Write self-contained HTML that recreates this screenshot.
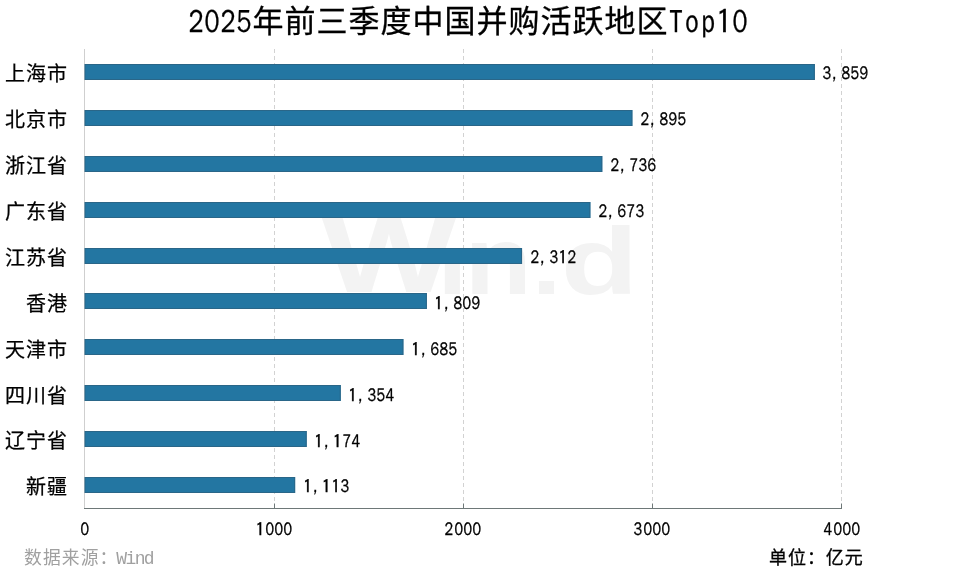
<!DOCTYPE html>
<html><head><meta charset="utf-8"><style>
html,body{margin:0;padding:0;background:#fff;}
body{width:960px;height:569px;position:relative;overflow:hidden;font-family:"Liberation Sans","Noto Sans CJK SC",sans-serif;color:#000;}
.a{position:absolute;white-space:nowrap;will-change:transform;}
i{font-style:normal;display:inline-flex;justify-content:center;font-family:"WenQuanYi Zen Hei","Liberation Sans",sans-serif;transform:scaleX(0.78);line-height:10px;}
svg{position:absolute;left:0;top:0;}
.lb{font-size:20px;line-height:30px;letter-spacing:1px;-webkit-text-stroke:0.25px #000;}
</style></head><body>
<svg width="960" height="569" viewBox="0 0 960 569"><defs><clipPath id="ci"><rect x="0" y="248" width="960" height="100"/></clipPath></defs><g fill="#f3f3f3" font-family="Liberation Sans" font-weight="bold"><g><text transform="translate(321.86,292) scale(1.323,1)" font-size="107.6">W</text></g><g clip-path="url(#ci)"><text transform="translate(437.34,294) scale(1.095,1)" font-size="100.0">i</text></g><g><text transform="translate(464.76,294) scale(1.137,1)" font-size="96.5">n</text></g><g><text transform="translate(531.77,294) scale(1.219,1)" font-size="87.2">.</text></g><g><text transform="translate(560.79,294) scale(1.334,1)" font-size="95.2">d</text></g></g><line x1="274.5" y1="49.0" x2="274.5" y2="508.0" stroke="#d2d2d2" stroke-width="1" stroke-dasharray="4,3"/><line x1="463.5" y1="49.0" x2="463.5" y2="508.0" stroke="#d2d2d2" stroke-width="1" stroke-dasharray="4,3"/><line x1="652.5" y1="49.0" x2="652.5" y2="508.0" stroke="#d2d2d2" stroke-width="1" stroke-dasharray="4,3"/><line x1="841.5" y1="49.0" x2="841.5" y2="508.0" stroke="#d2d2d2" stroke-width="1" stroke-dasharray="4,3"/><line x1="84.5" y1="49.0" x2="84.5" y2="508.0" stroke="#cfcfcf" stroke-width="1"/><rect x="85" y="64" width="729.82" height="16" fill="#2376a2"/><rect x="85" y="64.5" width="729.32" height="15" fill="none" stroke="#2a6688" stroke-width="1"/><rect x="85" y="110" width="547.38" height="16" fill="#2376a2"/><rect x="85" y="110.5" width="546.88" height="15" fill="none" stroke="#2a6688" stroke-width="1"/><rect x="85" y="156" width="517.29" height="16" fill="#2376a2"/><rect x="85" y="156.5" width="516.79" height="15" fill="none" stroke="#2a6688" stroke-width="1"/><rect x="85" y="202" width="505.37" height="16" fill="#2376a2"/><rect x="85" y="202.5" width="504.87" height="15" fill="none" stroke="#2a6688" stroke-width="1"/><rect x="85" y="248" width="437.05" height="16" fill="#2376a2"/><rect x="85" y="248.5" width="436.55" height="15" fill="none" stroke="#2a6688" stroke-width="1"/><rect x="85" y="293" width="341.85" height="16" fill="#2376a2"/><rect x="85" y="293.5" width="341.35" height="15" fill="none" stroke="#2a6688" stroke-width="1"/><rect x="85" y="339" width="318.39" height="16" fill="#2376a2"/><rect x="85" y="339.5" width="317.89" height="15" fill="none" stroke="#2a6688" stroke-width="1"/><rect x="85" y="385" width="255.74" height="16" fill="#2376a2"/><rect x="85" y="385.5" width="255.24" height="15" fill="none" stroke="#2a6688" stroke-width="1"/><rect x="85" y="431" width="221.68" height="16" fill="#2376a2"/><rect x="85" y="431.5" width="221.18" height="15" fill="none" stroke="#2a6688" stroke-width="1"/><rect x="85" y="477" width="210.14" height="16" fill="#2376a2"/><rect x="85" y="477.5" width="209.64" height="15" fill="none" stroke="#2a6688" stroke-width="1"/><line x1="84" y1="508.5" x2="842" y2="508.5" stroke="#6e7878" stroke-width="1.2"/><line x1="274.5" y1="503.5" x2="274.5" y2="508.5" stroke="#6e7878" stroke-width="1"/><line x1="463.5" y1="503.5" x2="463.5" y2="508.5" stroke="#6e7878" stroke-width="1"/><line x1="652.5" y1="503.5" x2="652.5" y2="508.5" stroke="#6e7878" stroke-width="1"/><line x1="841.5" y1="503.5" x2="841.5" y2="508.5" stroke="#6e7878" stroke-width="1"/></svg>
<div class="a lb" style="right:892px;top:59.25px;">上海市</div>
<div class="a" style="left:822.32px;top:62.35px;font-size:18.3px;line-height:22px;-webkit-text-stroke:0.35px #000;"><i style="width:9.35px">3</i><i style="width:9.35px;justify-content:flex-start;padding-left:0;box-sizing:border-box">,</i><i style="width:9.35px">8</i><i style="width:9.35px">5</i><i style="width:9.35px">9</i></div>
<div class="a lb" style="right:892px;top:105.15px;">北京市</div>
<div class="a" style="left:639.88px;top:108.25px;font-size:18.3px;line-height:22px;-webkit-text-stroke:0.35px #000;"><i style="width:9.35px">2</i><i style="width:9.35px;justify-content:flex-start;padding-left:0;box-sizing:border-box">,</i><i style="width:9.35px">8</i><i style="width:9.35px">9</i><i style="width:9.35px">5</i></div>
<div class="a lb" style="right:892px;top:151.05px;">浙江省</div>
<div class="a" style="left:609.79px;top:154.15px;font-size:18.3px;line-height:22px;-webkit-text-stroke:0.35px #000;"><i style="width:9.35px">2</i><i style="width:9.35px;justify-content:flex-start;padding-left:0;box-sizing:border-box">,</i><i style="width:9.35px">7</i><i style="width:9.35px">3</i><i style="width:9.35px">6</i></div>
<div class="a lb" style="right:892px;top:196.95px;">广东省</div>
<div class="a" style="left:597.87px;top:200.05px;font-size:18.3px;line-height:22px;-webkit-text-stroke:0.35px #000;"><i style="width:9.35px">2</i><i style="width:9.35px;justify-content:flex-start;padding-left:0;box-sizing:border-box">,</i><i style="width:9.35px">6</i><i style="width:9.35px">7</i><i style="width:9.35px">3</i></div>
<div class="a lb" style="right:892px;top:242.85px;">江苏省</div>
<div class="a" style="left:529.55px;top:245.95px;font-size:18.3px;line-height:22px;-webkit-text-stroke:0.35px #000;"><i style="width:9.35px">2</i><i style="width:9.35px;justify-content:flex-start;padding-left:0;box-sizing:border-box">,</i><i style="width:9.35px">3</i><i style="width:9.35px;font-family:IPAGothic,sans-serif;transform:none;position:relative;top:0.051em">1</i><i style="width:9.35px">2</i></div>
<div class="a lb" style="right:892px;top:288.75px;">香港</div>
<div class="a" style="left:434.35px;top:291.85px;font-size:18.3px;line-height:22px;-webkit-text-stroke:0.35px #000;"><i style="width:9.35px;font-family:IPAGothic,sans-serif;transform:none;position:relative;top:0.051em">1</i><i style="width:9.35px;justify-content:flex-start;padding-left:0;box-sizing:border-box">,</i><i style="width:9.35px">8</i><i style="width:9.35px">0</i><i style="width:9.35px">9</i></div>
<div class="a lb" style="right:892px;top:334.65px;">天津市</div>
<div class="a" style="left:410.89px;top:337.75px;font-size:18.3px;line-height:22px;-webkit-text-stroke:0.35px #000;"><i style="width:9.35px;font-family:IPAGothic,sans-serif;transform:none;position:relative;top:0.051em">1</i><i style="width:9.35px;justify-content:flex-start;padding-left:0;box-sizing:border-box">,</i><i style="width:9.35px">6</i><i style="width:9.35px">8</i><i style="width:9.35px">5</i></div>
<div class="a lb" style="right:892px;top:380.55px;">四川省</div>
<div class="a" style="left:348.24px;top:383.65px;font-size:18.3px;line-height:22px;-webkit-text-stroke:0.35px #000;"><i style="width:9.35px;font-family:IPAGothic,sans-serif;transform:none;position:relative;top:0.051em">1</i><i style="width:9.35px;justify-content:flex-start;padding-left:0;box-sizing:border-box">,</i><i style="width:9.35px">3</i><i style="width:9.35px">5</i><i style="width:9.35px">4</i></div>
<div class="a lb" style="right:892px;top:426.45px;">辽宁省</div>
<div class="a" style="left:314.18px;top:429.55px;font-size:18.3px;line-height:22px;-webkit-text-stroke:0.35px #000;"><i style="width:9.35px;font-family:IPAGothic,sans-serif;transform:none;position:relative;top:0.051em">1</i><i style="width:9.35px;justify-content:flex-start;padding-left:0;box-sizing:border-box">,</i><i style="width:9.35px;font-family:IPAGothic,sans-serif;transform:none;position:relative;top:0.051em">1</i><i style="width:9.35px">7</i><i style="width:9.35px">4</i></div>
<div class="a lb" style="right:892px;top:472.35px;">新疆</div>
<div class="a" style="left:302.64px;top:475.45px;font-size:18.3px;line-height:22px;-webkit-text-stroke:0.35px #000;"><i style="width:9.35px;font-family:IPAGothic,sans-serif;transform:none;position:relative;top:0.051em">1</i><i style="width:9.35px;justify-content:flex-start;padding-left:0;box-sizing:border-box">,</i><i style="width:9.35px;font-family:IPAGothic,sans-serif;transform:none;position:relative;top:0.051em">1</i><i style="width:9.35px;font-family:IPAGothic,sans-serif;transform:none;position:relative;top:0.051em">1</i><i style="width:9.35px">3</i></div>
<div class="a" style="left:44.50px;width:80px;text-align:center;top:518.4px;font-size:18.3px;line-height:22px;-webkit-text-stroke:0.35px #000;"><i style="width:9.35px">0</i></div>
<div class="a" style="left:233.75px;width:80px;text-align:center;top:518.4px;font-size:18.3px;line-height:22px;-webkit-text-stroke:0.35px #000;"><i style="width:9.35px;font-family:IPAGothic,sans-serif;transform:none;position:relative;top:0.051em">1</i><i style="width:9.35px">0</i><i style="width:9.35px">0</i><i style="width:9.35px">0</i></div>
<div class="a" style="left:423.00px;width:80px;text-align:center;top:518.4px;font-size:18.3px;line-height:22px;-webkit-text-stroke:0.35px #000;"><i style="width:9.35px">2</i><i style="width:9.35px">0</i><i style="width:9.35px">0</i><i style="width:9.35px">0</i></div>
<div class="a" style="left:612.25px;width:80px;text-align:center;top:518.4px;font-size:18.3px;line-height:22px;-webkit-text-stroke:0.35px #000;"><i style="width:9.35px">3</i><i style="width:9.35px">0</i><i style="width:9.35px">0</i><i style="width:9.35px">0</i></div>
<div class="a" style="left:801.50px;width:80px;text-align:center;top:518.4px;font-size:18.3px;line-height:22px;-webkit-text-stroke:0.35px #000;"><i style="width:9.35px">4</i><i style="width:9.35px">0</i><i style="width:9.35px">0</i><i style="width:9.35px">0</i></div>
<div class="a" style="left:188px;top:2px;font-size:31px;line-height:40px;letter-spacing:1px;-webkit-text-stroke:0.3px #000;"><i style="width:16px;font-size:32px;letter-spacing:0">2</i><i style="width:16px;font-size:32px;letter-spacing:0">0</i><i style="width:16px;font-size:32px;letter-spacing:0">2</i><i style="width:16px;font-size:32px;letter-spacing:0">5</i><span style="margin-left:0.5px">年前三季度中国并购活跃地区</span><span style="margin-left:-0.5px"><i style="width:16px;font-size:32px;letter-spacing:0">T</i><i style="width:16px;font-size:32px;letter-spacing:0">o</i><i style="width:16px;font-size:32px;letter-spacing:0">p</i><i style="width:16px;font-family:IPAGothic,sans-serif;transform:none;position:relative;top:0.051em;font-size:32px;letter-spacing:0">1</i><i style="width:16px;font-size:32px;letter-spacing:0">0</i></span></div>
<div class="a" style="left:23.6px;top:546.3px;font-size:17.8px;line-height:24px;color:#a0a0a0;letter-spacing:1.1px;">数据来源：<span style="font-family:'Liberation Mono',monospace;letter-spacing:-1.6px;font-size:18px;margin-left:-2.2px">Wind</span></div>
<div class="a" style="right:96.1px;top:545.8px;font-size:18px;letter-spacing:0.95px;line-height:24px;-webkit-text-stroke:0.3px #000;">单位：亿元</div>
</body></html>
